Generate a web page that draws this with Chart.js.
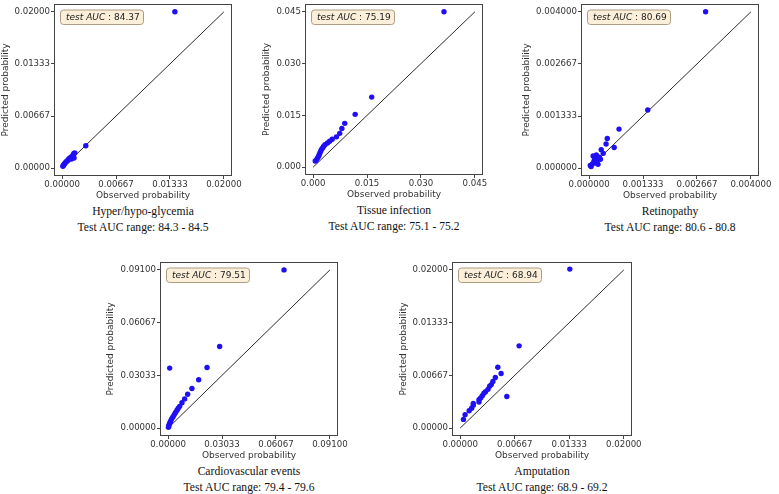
<!DOCTYPE html>
<html lang="en">
<head>
<meta charset="UTF-8">
<title>Calibration plots</title>
<script src="https://cdn.jsdelivr.net/npm/chart.js@4"></script>
<style>
  html, body { margin: 0; padding: 0; background: #fff; }
  body { width: 779px; height: 494px; position: relative; overflow: hidden; }
  canvas { position: absolute; }
  .caption {
    position: absolute; width: 220px; text-align: center;
    font-family: "Liberation Serif", "Times New Roman", serif;
    font-size: 11.6px; line-height: 15.5px; color: #111;
  }
</style>
</head>
<body>
<script>
// panel names, AUC values and ranges
const panelNames = ['Hyper/hypo-glycemia', 'Tissue infection', 'Retinopathy', 'Cardiovascular events', 'Amputation'];
const aucValues = ['84.37', '75.19', '80.69', '79.51', '68.94'];
const aucRanges = ['84.3 - 84.5', '75.1 - 75.2', '80.6 - 80.8', '79.4 - 79.6', '68.9 - 69.2'];

// tick values / labels (same on both axes of a panel)
const ticksGly = [0, 0.006667, 0.013333, 0.02];
const labelsGly = ['0.00000', '0.00667', '0.01333', '0.02000'];
const ticksInf = [0, 0.015, 0.030, 0.045];
const labelsInf = ['0.000', '0.015', '0.030', '0.045'];
const ticksRet = [0, 0.0013333, 0.0026667, 0.004];
const labelsRet = ['0.000000', '0.001333', '0.002667', '0.004000'];
const ticksCv = [0, 0.030333, 0.060667, 0.091];
const labelsCv = ['0.00000', '0.03033', '0.06067', '0.09100'];
const ticksAmp = [0, 0.006667, 0.013333, 0.02];
const labelsAmp = ['0.00000', '0.00667', '0.01333', '0.02000'];

// observed (x) and predicted (y) probabilities per bin
const obsGly  = [0.00010, 0.00015, 0.00022, 0.00028, 0.00036, 0.00046, 0.00055, 0.00067, 0.00075, 0.00083, 0.00095, 0.00108, 0.00116, 0.00125, 0.00136, 0.00148, 0.00145, 0.00157, 0.00293, 0.01394];
const predGly = [0.00025, 0.00034, 0.00045, 0.00055, 0.00065, 0.00076, 0.00085, 0.00097, 0.00106, 0.00118, 0.00128, 0.00139, 0.00118, 0.00150, 0.00169, 0.00131, 0.00189, 0.00194, 0.00286, 0.02000];

const obsInf  = [0.0006, 0.0009, 0.0012, 0.0015, 0.0017, 0.0019, 0.0021, 0.0023, 0.0026, 0.0029, 0.0033, 0.0040, 0.0046, 0.0053, 0.0065, 0.0074, 0.0080, 0.0088, 0.0117, 0.0163, 0.0364];
const predInf = [0.0018, 0.0021, 0.0026, 0.0031, 0.0036, 0.0041, 0.0046, 0.0051, 0.0055, 0.0060, 0.0065, 0.0070, 0.0075, 0.0081, 0.0088, 0.0098, 0.0112, 0.0127, 0.0153, 0.0203, 0.0450];

const obsRet  = [0.00003, 0.00005, 0.00008, 0.00010, 0.00012, 0.00014, 0.00017, 0.00018, 0.00020, 0.00022, 0.00025, 0.00028, 0.00030, 0.00035, 0.00042, 0.00045, 0.00062, 0.00074, 0.00145, 0.00288];
const predRet = [0.00007, 0.00004, 0.00011, 0.00031, 0.00018, 0.00024, 0.00013, 0.00034, 0.00020, 0.00010, 0.00028, 0.00023, 0.00047, 0.00038, 0.00062, 0.00076, 0.00053, 0.00100, 0.00149, 0.00400];

const obsCv  = [0.0002, 0.0004, 0.0006, 0.0009, 0.0013, 0.0017, 0.0022, 0.0028, 0.0035, 0.0042, 0.0050, 0.0057, 0.0065, 0.0078, 0.0093, 0.0110, 0.0134, 0.0172, 0.0219, 0.0009, 0.0290, 0.0652];
const predCv = [0.0005, 0.0012, 0.0020, 0.0028, 0.0037, 0.0046, 0.0056, 0.0065, 0.0078, 0.0090, 0.0103, 0.0114, 0.0125, 0.0146, 0.0168, 0.0195, 0.0228, 0.0278, 0.0349, 0.0345, 0.0469, 0.0910];

const obsAmp  = [0.0004, 0.0006, 0.0011, 0.0014, 0.0016, 0.0016, 0.0023, 0.0023, 0.0025, 0.0027, 0.0029, 0.0031, 0.0034, 0.0036, 0.0038, 0.0040, 0.0043, 0.0046, 0.0050, 0.0057, 0.0072, 0.0134];
const predAmp = [0.0011, 0.0017, 0.0022, 0.0025, 0.0029, 0.0031, 0.0033, 0.0036, 0.0038, 0.0041, 0.0044, 0.0046, 0.0049, 0.0053, 0.0055, 0.0059, 0.0064, 0.0077, 0.0069, 0.0040, 0.0104, 0.0201];

// layout of each panel (canvas corner, y-axis width, plot box size)
const panels = [
  { obs: obsGly, pred: predGly, ticks: ticksGly, labels: labelsGly, left: 0,   top: 0,   axisW: 54, padTop: 1, plotW: 178, plotH: 175 },
  { obs: obsInf, pred: predInf, ticks: ticksInf, labels: labelsInf, left: 261, top: 0,   axisW: 44, padTop: 1, plotW: 178, plotH: 174 },
  { obs: obsRet, pred: predRet, ticks: ticksRet, labels: labelsRet, left: 521, top: 0,   axisW: 60, padTop: 2, plotW: 178, plotH: 174 },
  { obs: obsCv,  pred: predCv,  ticks: ticksCv,  labels: labelsCv,  left: 105, top: 256, axisW: 55, padTop: 6, plotW: 178, plotH: 174 },
  { obs: obsAmp, pred: predAmp, ticks: ticksAmp, labels: labelsAmp, left: 398, top: 256, axisW: 54, padTop: 6, plotW: 180, plotH: 174 }
];

const RIGHT_PAD = 20;
const X_AXIS_H = 25;
const tickFont = { family: 'DejaVu Sans', size: 8.6 };
const titleFont = { family: 'DejaVu Sans', size: 9 };

// plot frame on all four sides
const framePlugin = {
  id: 'frame',
  beforeDatasetsDraw(chart) {
    const { ctx, chartArea: a } = chart;
    ctx.save();
    ctx.strokeStyle = '#444';
    ctx.lineWidth = 1;
    ctx.strokeRect(a.left + 0.5, a.top + 0.5, a.right - a.left - 1, a.bottom - a.top - 1);
    ctx.restore();
  }
};

// "test AUC : xx.xx" box in the upper left corner
const aucPlugin = {
  id: 'auc',
  afterDraw(chart, args, opts) {
    const { ctx, chartArea: a } = chart;
    const x = a.left + 6.5, y = a.top + 6, w = 83, h = 14.5;
    ctx.save();
    ctx.beginPath();
    ctx.roundRect(x, y, w, h, 3);
    ctx.fillStyle = '#fbefda';
    ctx.fill();
    ctx.strokeStyle = '#ab9d80';
    ctx.lineWidth = 1;
    ctx.stroke();
    ctx.fillStyle = '#222';
    ctx.textBaseline = 'middle';
    ctx.font = 'italic 9px "DejaVu Sans"';
    ctx.fillText('test AUC', x + 5.5, y + h / 2 + 0.5);
    const w1 = ctx.measureText('test AUC').width;
    ctx.font = '9px "DejaVu Sans"';
    ctx.fillText(' : ' + opts.value, x + 5.5 + w1, y + h / 2 + 0.5);
    ctx.restore();
  }
};

function makeAxis(p, isX, lo, hi) {
  return {
    type: 'linear',
    position: isX ? 'bottom' : 'left',
    min: lo,
    max: hi,
    afterBuildTicks: s => { s.ticks = p.ticks.map(v => ({ value: v })); },
    afterFit: s => {
      if (isX) s.height = X_AXIS_H; else s.width = p.axisW;
      s.paddingLeft = 0; s.paddingRight = 0; s.paddingTop = 0; s.paddingBottom = 0;
    },
    grid: { display: true, drawOnChartArea: false, drawTicks: true, tickLength: 3, tickColor: '#444', tickWidth: 1 },
    border: { display: false },
    ticks: {
      autoSkip: false, maxRotation: 0, minRotation: 0, padding: 1,
      color: '#333', font: tickFont,
      callback: (v, i) => p.labels[i]
    },
    title: {
      display: true,
      text: isX ? 'Observed probability' : 'Predicted probability',
      color: '#333', font: titleFont, padding: 0
    }
  };
}

panels.forEach((p, k) => {
  const w = p.axisW + p.plotW + RIGHT_PAD;
  const h = p.padTop + p.plotH + X_AXIS_H;
  const canvas = document.createElement('canvas');
  canvas.width = w;
  canvas.height = h;
  canvas.style.left = p.left + 'px';
  canvas.style.top = p.top + 'px';
  canvas.style.width = w + 'px';
  canvas.style.height = h + 'px';
  document.body.appendChild(canvas);

  const maxT = p.ticks[p.ticks.length - 1];
  const lo = -0.05 * maxT, hi = 1.05 * maxT;

  new Chart(canvas, {
    type: 'scatter',
    data: {
      datasets: [
        {
          data: p.obs.map((x, i) => ({ x: x, y: p.pred[i] })),
          backgroundColor: '#1f0ff5',
          pointRadius: 2.7,
          pointBorderWidth: 0,
          clip: false,
          order: 1
        },
        {
          data: [{ x: 0, y: 0 }, { x: maxT, y: maxT }],
          showLine: true,
          borderColor: '#2a2a2a',
          borderWidth: 1,
          pointRadius: 0,
          order: 2
        }
      ]
    },
    options: {
      responsive: false,
      animation: false,
      layout: { padding: { top: p.padTop, right: RIGHT_PAD, bottom: 0, left: 0 } },
      scales: { x: makeAxis(p, true, lo, hi), y: makeAxis(p, false, lo, hi) },
      plugins: { legend: { display: false }, tooltip: { enabled: false }, auc: { value: aucValues[k] } }
    },
    plugins: [framePlugin, aucPlugin]
  });

  // caption under the panel
  const cap = document.createElement('div');
  cap.className = 'caption';
  const cx = p.left + p.axisW + p.plotW / 2;
  cap.style.left = (cx - 110) + 'px';
  cap.style.top = (p.top + p.padTop + p.plotH + 28) + 'px';
  cap.innerHTML = panelNames[k] + '<br>Test AUC range: ' + aucRanges[k];
  document.body.appendChild(cap);
});
</script>
</body>
</html>
